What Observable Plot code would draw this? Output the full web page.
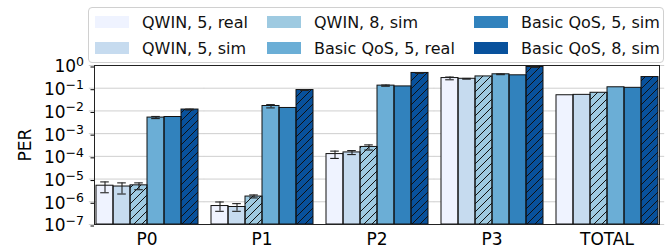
<!DOCTYPE html>
<html>
<head>
<meta charset="utf-8">
<script src="https://cdn.jsdelivr.net/npm/d3@7"></script>
<script src="https://cdn.jsdelivr.net/npm/@observablehq/plot@0.6"></script>
<style>
  html, body { margin: 0; padding: 0; background: #fff; }
  body { font-family: "DejaVu Sans", sans-serif; }
  #wrap { position: relative; width: 671px; height: 249px; }
  #legend {
    position: absolute; left: 88px; top: 7px; width: 576px; height: 56px;
    box-sizing: border-box; border: 1px solid #d0d0d0; border-radius: 4px;
    background: rgba(255,255,255,0.85);
    display: grid; grid-template-columns: 172px 207px 1fr; grid-template-rows: 26px 26px;
    grid-auto-flow: column; padding: 1px 0 0 6px; box-sizing: border-box; z-index: 2;
  }
  .item { display: flex; align-items: center; font-size: 16px; color: #111; white-space: nowrap; }
  .sw { width: 34px; height: 12px; margin-right: 13px; flex: none; }
</style>
</head>
<body>
<div id="wrap">
  <div id="legend"></div>
  <div id="chart"></div>
</div>
<script>
// ---- data ----
const groups = ["P0", "P1", "P2", "P3", "TOTAL"];
const series = ["QWIN, 5, real", "QWIN, 5, sim", "QWIN, 8, sim", "Basic QoS, 5, real", "Basic QoS, 5, sim", "Basic QoS, 8, sim"];
const colors = ["#eff3ff", "#c6dbef", "#9ecae1", "#6baed6", "#3182bd", "#08519c"];
const hatchedSeries = ["QWIN, 8, sim", "Basic QoS, 8, sim"];
const yTicks = [1e-7, 1e-6, 1e-5, 1e-4, 1e-3, 1e-2, 1e-1, 1];

// PER per group (P0, P1, P2, P3, TOTAL)
const qwin5real  = [5.1e-6, 6.5e-7, 1.26e-4, 0.28, 0.049];
const qwin5sim   = [4.7e-6, 5.9e-7, 1.49e-4, 0.26, 0.051];
const qwin8sim   = [5.3e-6, 1.7e-6, 2.6e-4, 0.33, 0.063];
const basic5real = [5.1e-3, 1.65e-2, 0.13, 0.41, 0.11];
const basic5sim  = [5.4e-3, 1.35e-2, 0.12, 0.37, 0.104];
const basic8sim  = [1.15e-2, 0.083, 0.47, 0.86, 0.31];

// error bar bounds (null = none)
const qwin5realLo  = [2.5e-6, 3.8e-7, 8.1e-5, 0.235, null];
const qwin5realHi  = [7.5e-6, 9.8e-7, 1.7e-4, 0.31, null];
const qwin5simLo   = [2.2e-6, 3.8e-7, 1.2e-4, 0.25, null];
const qwin5simHi   = [6.8e-6, 8.3e-7, 1.8e-4, 0.27, null];
const qwin8simLo   = [3.4e-6, 1.48e-6, 1.9e-4, null, null];
const qwin8simHi   = [6.8e-6, 2.0e-6, 3.2e-4, null, null];
const basic5realLo = [4.6e-3, 1.36e-2, 0.122, 0.395, null];
const basic5realHi = [5.7e-3, 1.9e-2, 0.138, 0.425, null];
const basic5simLo  = [null, null, null, null, null];
const basic5simHi  = [null, null, null, null, null];
const basic8simLo  = [1.1e-2, 0.08, 0.45, 0.83, null];
const basic8simHi  = [1.2e-2, 0.086, 0.49, 0.89, null];

const values = [qwin5real, qwin5sim, qwin8sim, basic5real, basic5sim, basic8sim];
const lows = [qwin5realLo, qwin5simLo, qwin8simLo, basic5realLo, basic5simLo, basic8simLo];
const highs = [qwin5realHi, qwin5simHi, qwin8simHi, basic5realHi, basic5simHi, basic8simHi];

const table = [];
groups.forEach((g, gi) => series.forEach((s, si) => {
  table.push({group: g, series: s, value: values[si][gi], lo: lows[si][gi], hi: highs[si][gi]});
}));
const errTable = table.filter(d => d.lo != null && d.hi != null);
const hatchTable = table.filter(d => hatchedSeries.includes(d.series));

// ---- legend ----
const legend = d3.select("#legend");
series.forEach((s, i) => {
  const it = legend.append("div").attr("class", "item");
  it.append("div").attr("class", "sw").style("background", colors[i]);
  it.append("span").text(s);
});

// ---- chart ----
const base = 1e-7;
const groupGap = 5.2; // half of the gap between facets, so grid lines run continuously
const chart = Plot.plot({
  width: 671,
  height: 249,
  marginLeft: 88,
  marginRight: 7,
  marginTop: 65,
  marginBottom: 25,
  style: {fontFamily: "DejaVu Sans, sans-serif", background: "transparent", overflow: "visible"},
  fx: {domain: groups, paddingInner: 0.09, paddingOuter: 0.045, label: null},
  x: {domain: series, padding: 0, axis: null},
  y: {type: "log", domain: [1e-7, 1]},
  color: {domain: series, range: colors},
  marks: [
    Plot.ruleY(yTicks, {stroke: "#cfcfcf", strokeWidth: 1, insetLeft: -groupGap, insetRight: -groupGap}),
    Plot.barY(table, {fx: "group", x: "series", y1: base, y2: "value", fill: "series"}),
    Plot.barY(hatchTable, {fx: "group", x: "series", y1: base, y2: "value", fill: "url(#hatch)"}),
    Plot.barY(table, {fx: "group", x: "series", y1: base, y2: "value", fill: "none", stroke: "#111", strokeWidth: 1}),
    Plot.ruleX(errTable, {fx: "group", x: "series", y1: "lo", y2: "hi", stroke: "#222", strokeWidth: 1.1}),
    Plot.tickY(errTable, {fx: "group", x: "series", y: "lo", stroke: "#222", strokeWidth: 1.1, insetLeft: 4.2, insetRight: 4.2}),
    Plot.tickY(errTable, {fx: "group", x: "series", y: "hi", stroke: "#222", strokeWidth: 1.1, insetLeft: 4.2, insetRight: 4.2}),
    Plot.frame({facet: "super", stroke: "#222", strokeWidth: 1}),
    Plot.axisY({ticks: yTicks, tickSize: 3.5, tickPadding: 7, fontSize: 17, dy: 1.5,
      tickFormat: d => "10^" + Math.round(Math.log10(d)),
      label: "PER", labelAnchor: "center", labelArrow: "none", labelOffset: 76}),
    Plot.axisFx({anchor: "bottom", tickSize: 0, tickPadding: 8, fontSize: 17, label: null})
  ]
});

// hatch pattern
d3.select(chart).insert("defs", ":first-child").html(
  '<pattern id="hatch" patternUnits="userSpaceOnUse" width="8" height="8">' +
  '<path d="M-1,1 L1,-1 M0,8 L8,0 M7,9 L9,7" stroke="#111" stroke-width="1" fill="none"/></pattern>'
);

// superscript exponents on the log tick labels
d3.select(chart).selectAll('g[aria-label="y-axis tick label"] text').each(function() {
  const t = this.textContent;
  if (!t.includes("^")) return;
  const e = t.split("^")[1].replace("-", "\u2212");
  const sel = d3.select(this);
  sel.text("10");
  sel.append("tspan").attr("dy", "-6.5").attr("font-size", "12.5px").text(e);
});

document.getElementById("chart").appendChild(chart);
</script>
</body>
</html>
